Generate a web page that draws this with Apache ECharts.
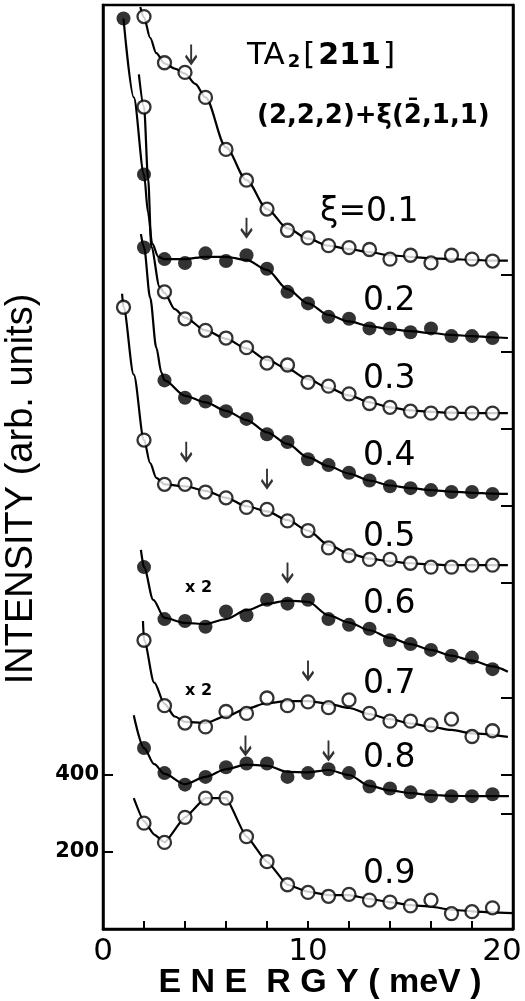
<!DOCTYPE html>
<html><head><meta charset="utf-8">
<script src="https://cdn.jsdelivr.net/npm/echarts@6/dist/echarts.min.js"></script>
<style>html,body{margin:0;padding:0;background:#fff}#c{width:525px;height:1001px}</style>
</head><body><div id="c"></div>
<script>
// ---- axis ticks / labels ----
const xTickLabels = [0, 10, 20];
const xTicks = [2, 4, 6, 8, 10, 12, 14, 16, 18];
const yLeftTicks = [200, 400];
const yRightTicks = [300, 400, 600, 900, 1100, 1300, 1500, 1700];
const curveLabels = ['ξ=0.1', '0.2', '0.3', '0.4', '0.5', '0.6', '0.7', '0.8', '0.9'];

// ---- measured points [energy meV, intensity] ----
const pts01 = [[2,2370],[3,2250],[4,2225],[5,2160],[6,2025],[7,1945],[8,1870],[9,1815],[10,1795],[11,1775],[12,1770],[13,1765],[14,1740],[15,1750],[16,1730],[17,1750],[18,1740],[19,1735]];
const pts02 = [[1,2365],[2,1960],[3,1740],[4,1730],[5,1755],[6,1735],[7,1750],[8,1715],[9,1655],[10,1625],[11,1590],[12,1585],[13,1560],[14,1560],[15,1550],[16,1560],[17,1540],[18,1540],[19,1535]];
const pts03 = [[2,2135],[3,1655],[4,1585],[5,1555],[6,1535],[7,1510],[8,1470],[9,1465],[10,1420],[11,1410],[12,1390],[13,1365],[14,1355],[15,1345],[16,1340],[17,1340],[18,1340],[19,1340]];
const pts04 = [[2,1770],[3,1425],[4,1380],[5,1370],[6,1345],[7,1325],[8,1285],[9,1265],[10,1220],[11,1205],[12,1185],[13,1165],[14,1150],[15,1145],[16,1140],[17,1135],[18,1135],[19,1130]];
const pts05 = [[1,1615],[2,1270],[3,1155],[4,1155],[5,1135],[6,1120],[7,1095],[8,1090],[9,1060],[10,1035],[11,990],[12,970],[13,960],[14,960],[15,950],[16,940],[17,940],[18,945],[19,945]];
const pts06 = [[2,940],[3,805],[4,800],[5,785],[6,825],[7,815],[8,855],[9,845],[10,855],[11,805],[12,790],[13,780],[14,750],[15,740],[16,725],[17,710],[18,705],[19,675]];
const pts07 = [[2,750],[3,580],[4,535],[5,525],[6,565],[7,560],[8,600],[9,580],[10,590],[11,575],[12,595],[13,560],[14,540],[15,540],[16,530],[17,545],[18,500],[19,515]];
const pts08 = [[2,470],[3,405],[4,375],[5,395],[6,420],[7,430],[8,430],[9,395],[10,405],[11,415],[12,405],[13,370],[14,365],[15,355],[16,345],[17,345],[18,345],[19,350]];
const pts09 = [[2,275],[3,225],[4,290],[5,340],[6,340],[7,240],[8,175],[9,115],[10,95],[11,85],[12,90],[13,75],[14,70],[15,60],[16,75],[17,40],[18,45],[19,55]];

// ---- fitted curves drawn through the data [energy, intensity] ----
const fit01 = [[1.82,2395],[2,2368],[2.3,2315],[2.6,2275],[3,2248],[3.5,2235],[4,2222],[4.5,2195],[5,2160],[6,2030],[7,1945],[8,1870],[9,1820],[10,1793],[11,1775],[12,1766],[13,1758],[14,1750],[15,1746],[16,1742],[17,1740],[18,1738],[19,1736],[19.75,1736]];
const fit02 = [[1,2365],[1.5,2160],[2,1960],[2.2,1860],[2.4,1780],[2.7,1746],[3,1740],[4,1740],[5,1746],[6,1746],[7,1738],[8,1712],[9,1662],[10,1625],[11,1595],[12,1578],[13,1566],[14,1558],[15,1553],[16,1548],[17,1543],[18,1540],[19,1537],[19.75,1535]];
const fit03 = [[1.75,2220],[2,2135],[2.2,1950],[2.36,1771],[2.76,1668],[3,1652],[3.5,1610],[4,1588],[5,1555],[6,1533],[7,1508],[8,1478],[9,1455],[10,1428],[11,1405],[12,1386],[13,1368],[14,1355],[15,1347],[16,1343],[17,1341],[18,1340],[19.75,1340]];
const fit04 = [[1.85,1805],[2,1770],[2.3,1640],[2.6,1510],[2.85,1445],[3,1425],[4,1385],[5,1368],[6,1346],[7,1322],[8,1290],[9,1260],[10,1225],[11,1202],[12,1183],[13,1165],[14,1152],[15,1145],[16,1140],[17,1136],[18,1133],[19,1131],[19.75,1130]];
const fit05 = [[0.93,1650],[1,1615],[1.5,1440],[2,1270],[2.3,1210],[2.6,1172],[3,1155],[4,1150],[5,1138],[6,1120],[7,1098],[8,1085],[9,1062],[10,1035],[11,998],[12,975],[13,962],[14,955],[15,950],[16,947],[17,945],[18,945],[19.75,945]];
const fit06 = [[1.85,985],[2,940],[2.45,855],[3,808],[4,795],[5,792],[6,805],[7,828],[8,845],[9,853],[10,850],[11,815],[12,796],[13,776],[14,756],[15,740],[16,725],[17,710],[18,697],[19,682],[19.75,668]];
const fit07 = [[1.95,800],[2,750],[2.5,640],[3,585],[3.5,552],[4,538],[5,535],[6,553],[7,572],[8,587],[9,592],[10,592],[11,585],[12,574],[13,558],[14,545],[15,534],[16,525],[17,517],[18,508],[19.75,499]];
const fit08 = [[1.5,555],[2,470],[2.5,428],[3,403],[4,376],[5,395],[6,415],[7,427],[8,424],[9,408],[10,407],[11,413],[12,400],[13,372],[14,360],[15,353],[16,348],[17,346],[18,345],[19.8,345]];
const fit09 = [[1.5,340],[2,280],[2.5,245],[3,225],[4,290],[5,340],[6,340],[7,240],[8,175],[9,115],[10,97],[11,88],[12,88],[13,78],[14,70],[15,62],[16,58],[17,50],[18,46],[19,43],[20,41]];

// ---- arrow markers [energy, intensity] ----
const arrows = [[4.3,2273],[7.0,1823],[4.06,1241],[8.0,1171],[9.0,927],[10.0,673],[6.95,478],[11.0,465]];

const filled = [false, true, false, true, false, true, false, true, false];
const pointSets = [pts01, pts02, pts03, pts04, pts05, pts06, pts07, pts08, pts09];
const fitSets = [fit01, fit02, fit03, fit04, fit05, fit06, fit07, fit08, fit09];

const series = [];
fitSets.forEach((f, i) => {
  series.push({
    type: 'line', data: f, symbol: 'none', showSymbol: false,
    smooth: i === 8 ? 0.15 : 0.3, smoothMonotone: 'x',
    lineStyle: { color: '#000', width: 2.2 }, z: 2, silent: true
  });
});
pointSets.forEach((p, i) => {
  series.push({
    type: 'scatter', data: p, symbol: 'circle', symbolSize: filled[i] ? 14 : 13,
    itemStyle: filled[i] ? { color: '#000', borderColor: '#000', borderWidth: 0 }
                         : { color: '#fff', borderColor: '#000', borderWidth: 2.3 },
    z: 3, silent: true
  });
});
series.push({
  type: 'scatter', data: arrows,
  symbol: 'path://M5,0L5,20M0,12L5,20L10,12',
  symbolSize: [11, 19],
  itemStyle: { color: 'rgba(0,0,0,0)', borderColor: '#000', borderWidth: 2.5 },
  z: 4, silent: true
});

const LAB = '"DejaVu Sans", sans-serif';
const graphics = [];
const labelPos = [[320,212],[363,301],[363,379],[363,456],[363,537],[363,604],[363,684],[363,758],[363,874]];
curveLabels.forEach((t, i) => {
  graphics.push({ type: 'text', x: labelPos[i][0], y: labelPos[i][1],
    style: { text: t, fill: '#000', font: '33px ' + LAB, align: 'left', verticalAlign: 'middle', textAlign: 'left', textVerticalAlign: 'middle' } });
});
graphics.push({ type: 'text', x: 185, y: 588, style: { text: 'x 2', fill: '#000', font: 'bold 16px ' + LAB, align: 'left', verticalAlign: 'middle' } });
graphics.push({ type: 'text', x: 185, y: 691, style: { text: 'x 2', fill: '#000', font: 'bold 16px ' + LAB, align: 'left', verticalAlign: 'middle' } });
graphics.push({ type: 'text', x: 247, y: 56, style: {
  text: '{a|TA}{s|2}{a|[}{b|211}{a|]}', align: 'left', verticalAlign: 'middle',
  rich: {
    a: { fontSize: 31, fontFamily: 'DejaVu Sans', fill: '#000', padding: [0, 2, 0, 0] },
    s: { fontSize: 18, fontFamily: 'DejaVu Sans', fontWeight: 'bold', fill: '#000', verticalAlign: 'bottom', padding: [0, 3, 0, 1] },
    b: { fontSize: 30, fontFamily: 'DejaVu Sans', fontWeight: 'bold', fill: '#000', padding: [0, 2, 0, 1] }
  } } });
graphics.push({ type: 'text', x: 257, y: 116, style: { text: '(2,2,2)+ξ(2\u0304,1,1)', fill: '#000', font: 'bold 26px ' + LAB, align: 'left', verticalAlign: 'middle' } });
graphics.push({ type: 'text', x: 22, y: 489, rotation: Math.PI / 2, style: { text: 'INTENSITY (arb. units)', fill: '#000', font: '38px "Liberation Sans", sans-serif', align: 'center', verticalAlign: 'middle' } });
graphics.push({ type: 'text', x: 320, y: 983, style: { text: 'E N E  R G Y ( meV )', fill: '#000', font: 'bold 34px "Liberation Sans", sans-serif', align: 'center', verticalAlign: 'middle' } });

const option = {
  animation: false,
  backgroundColor: '#fff',
  grid: { left: 103, right: 12, top: 5, bottom: 72, show: true, borderColor: '#000', borderWidth: 2.5, containLabel: false, outerBoundsMode: 'none' },
  xAxis: [{
    type: 'value', min: 0, max: 20, position: 'bottom',
    axisLine: { show: true, onZero: false, lineStyle: { color: '#000', width: 2.5 } },
    axisTick: { show: true, inside: true, length: 8, customValues: xTicks, lineStyle: { color: '#000', width: 2 } },
    axisLabel: { customValues: xTickLabels, color: '#000', fontSize: 31, fontFamily: 'DejaVu Sans', margin: 7,
      formatter: v => v === 20 ? '{r|20}' : String(v),
      rich: { r: { fontSize: 31, fontFamily: 'DejaVu Sans', color: '#000', padding: [0, 22, 0, 0] } } },
    splitLine: { show: false }
  }],
  yAxis: [{
    type: 'value', min: 0, max: 2400, position: 'left',
    axisLine: { show: true, onZero: false, lineStyle: { color: '#000', width: 2.5 } },
    axisTick: { show: true, inside: true, length: 10, customValues: yLeftTicks, lineStyle: { color: '#000', width: 2 } },
    axisLabel: { customValues: yLeftTicks, color: '#000', fontSize: 21, fontWeight: 'bold', fontFamily: 'DejaVu Sans', margin: 4 },
    splitLine: { show: false }
  }, {
    type: 'value', min: 0, max: 2400, position: 'right',
    axisLine: { show: true, onZero: false, lineStyle: { color: '#000', width: 2.5 } },
    axisTick: { show: true, inside: true, length: 12, customValues: yRightTicks, lineStyle: { color: '#000', width: 2 } },
    axisLabel: { show: false },
    splitLine: { show: false }
  }],
  series: series,
  graphic: graphics
};
const chart = echarts.init(document.getElementById('c'));
chart.setOption(option);
</script>
</body></html>
